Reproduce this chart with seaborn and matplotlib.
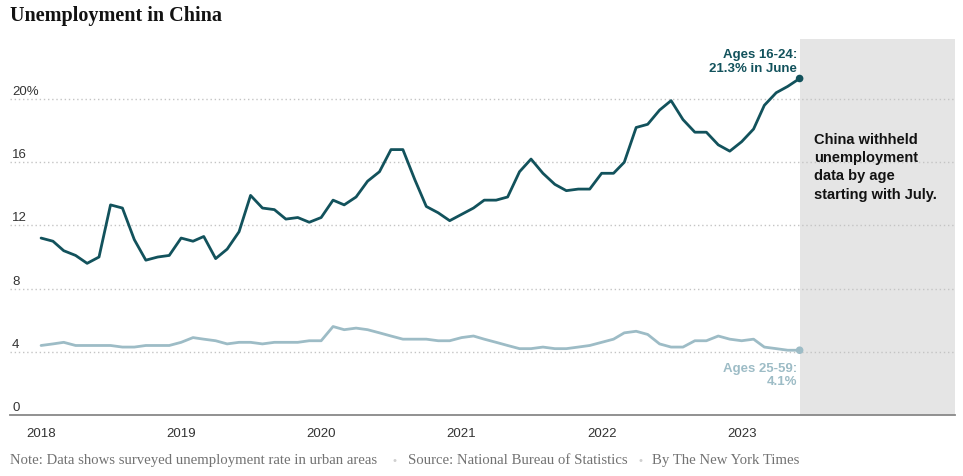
import numpy as np
import pandas as pd
import matplotlib
matplotlib.use("Agg")
import matplotlib.pyplot as plt
import matplotlib.transforms as mtransforms
import seaborn as sns

# ---------------- data ----------------
months = pd.date_range("2018-01-01", "2023-06-01", freq="MS")
ages_16_24 = [
    11.2, 11.0, 10.4, 10.1, 9.6, 10.0, 13.3, 13.1, 11.1, 9.8, 10.0, 10.1,
    11.2, 11.0, 11.3, 9.9, 10.5, 11.6, 13.9, 13.1, 13.0, 12.4, 12.5, 12.2,
    12.5, 13.6, 13.3, 13.8, 14.8, 15.4, 16.8, 16.8, 14.9, 13.2, 12.8, 12.3,
    12.7, 13.1, 13.6, 13.6, 13.8, 15.4, 16.2, 15.3, 14.6, 14.2, 14.3, 14.3,
    15.3, 15.3, 16.0, 18.2, 18.4, 19.3, 19.9, 18.7, 17.9, 17.9, 17.1, 16.7,
    17.3, 18.1, 19.6, 20.4, 20.8, 21.3,
]
ages_25_59 = [
    4.4, 4.5, 4.6, 4.4, 4.4, 4.4, 4.4, 4.3, 4.3, 4.4, 4.4, 4.4,
    4.6, 4.9, 4.8, 4.7, 4.5, 4.6, 4.6, 4.5, 4.6, 4.6, 4.6, 4.7,
    4.7, 5.6, 5.4, 5.5, 5.4, 5.2, 5.0, 4.8, 4.8, 4.8, 4.7, 4.7,
    4.9, 5.0, 4.8, 4.6, 4.4, 4.2, 4.2, 4.3, 4.2, 4.2, 4.3, 4.4,
    4.6, 4.8, 5.2, 5.3, 5.1, 4.5, 4.3, 4.3, 4.7, 4.7, 5.0, 4.8,
    4.7, 4.8, 4.3, 4.2, 4.1, 4.1,
]
series_names = ["Ages 16-24", "Ages 25-59"]
y_ticks = [0, 4, 8, 12, 16, 20]
y_tick_labels = ["0", "4", "8", "12", "16", "20%"]
x_years = [2018, 2019, 2020, 2021, 2022, 2023]

df = pd.concat([
    pd.DataFrame({"month": months, "rate": ages_16_24, "group": series_names[0]}),
    pd.DataFrame({"month": months, "rate": ages_25_59, "group": series_names[1]}),
])

# ---------------- style ----------------
sns.set_style("white")
plt.rcParams["font.family"] = ["Liberation Sans", "DejaVu Sans"]

dark = "#12525c"
light = "#9dbcc6"
palette = {series_names[0]: dark, series_names[1]: light}

W, H = 963, 477
fig = plt.figure(figsize=(W / 100, H / 100), dpi=100)
ax = fig.add_axes([10 / W, (H - 416) / H, (955 - 10) / W, (416 - 40) / H])

x_left = pd.Timestamp("2017-10-12")
x_right = pd.Timestamp("2024-07-10")
ax.set_xlim(x_left, x_right)
ax.set_ylim(0, 23.8)

# shaded "withheld" region
ax.axvspan(months[-1], x_right, color="#e5e5e5", lw=0, zorder=0)

# gridlines
for v in y_ticks[1:]:
    ax.axhline(v, color="#c4c4c4", lw=1, ls=(0, (1, 2)), zorder=1)

sns.lineplot(data=df, x="month", y="rate", hue="group", palette=palette,
             linewidth=2, ax=ax, legend=False, zorder=3)

last = df[df["month"] == months[-1]]
sns.scatterplot(data=last, x="month", y="rate", hue="group", palette=palette,
                s=30, edgecolor="none", ax=ax, legend=False, zorder=4)

# y labels above gridlines
trans = mtransforms.blended_transform_factory(ax.transAxes, ax.transData)
for v, lab in zip(y_ticks, y_tick_labels):
    ax.annotate(lab, xy=(2 / 945, v), xycoords=trans, xytext=(0, 1.5),
                textcoords="offset points", ha="left", va="bottom",
                fontsize=9.5, color="#333333")

# x axis
ax.set_xticks([pd.Timestamp(f"{y}-01-01") for y in x_years])
ax.set_xticklabels([str(y) for y in x_years])
ax.set_yticks([])
ax.tick_params(axis="x", length=5, width=1, color="#888888", pad=4,
               labelsize=9.5, labelcolor="#333333")
for s in ["top", "right", "left"]:
    ax.spines[s].set_visible(False)
ax.spines["bottom"].set_color("#888888")
ax.spines["bottom"].set_linewidth(1.3)
ax.set_xlabel("")
ax.set_ylabel("")

# annotations
ax.annotate("Ages 16-24:\n21.3% in June", xy=(months[-1], ages_16_24[-1]),
            xytext=(-2, 3.5), textcoords="offset points", ha="right", va="bottom",
            fontsize=9.5, fontweight="bold", color=dark, linespacing=1.15)
ax.annotate("Ages 25-59:\n4.1%", xy=(months[-1], ages_25_59[-1]),
            xytext=(-2, -8.5), textcoords="offset points", ha="right", va="top",
            fontsize=9.5, fontweight="bold", color=light, linespacing=1.15)
fig.text(814 / W, 1 - 133 / H,
         "China withheld\nunemployment\ndata by age\nstarting with July.",
         ha="left", va="top", fontsize=10.5, fontweight="bold",
         color="#121212", linespacing=1.38)

# title
fig.text(10 / W, 1 - 21 / H, "Unemployment in China", ha="left", va="baseline",
         fontsize=14.5, fontweight="bold", color="#121212",
         family=["Liberation Serif", "DejaVu Serif"])

# footer
foot_kw = dict(ha="left", va="center", fontsize=10.6, color="#727272",
               family=["Liberation Serif", "DejaVu Serif"])
fy = 1 - 461 / H
fig.text(10 / W, fy, "Note: Data shows surveyed unemployment rate in urban areas", **foot_kw)
fig.text(392 / W, fy, "\u2022", ha="left", va="center", fontsize=8, color="#d0d0d0")
fig.text(408 / W, fy, "Source: National Bureau of Statistics", **foot_kw)
fig.text(638 / W, fy, "\u2022", ha="left", va="center", fontsize=8, color="#d0d0d0")
fig.text(652 / W, fy, "By The New York Times", **foot_kw)

fig.savefig("out.png", dpi=100, facecolor="white")
